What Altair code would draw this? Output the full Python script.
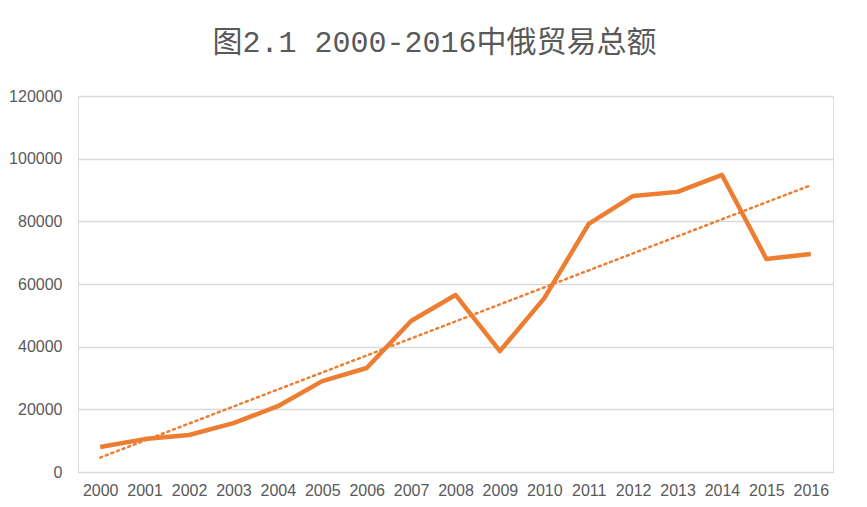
import altair as alt
import pandas as pd

years = list(range(2000, 2017))
values = [8000, 10500, 11800, 15600, 21000, 29000, 33200, 48200, 56500,
          38600, 55500, 79200, 88100, 89400, 94800, 68000, 69600]
y_ticks = [0, 20000, 40000, 60000, 80000, 100000, 120000]

df = pd.DataFrame({"year": years, "value": values})

ORANGE = "#ED7D31"
GRAY = "#595959"

x = alt.X("year:Q",
          scale=alt.Scale(domain=[1999.5, 2016.5], nice=False, zero=False),
          axis=alt.Axis(values=years, format="d", title=None, grid=False,
                        domain=False, ticks=False, labelPadding=10,
                        labelFontSize=16, labelColor=GRAY, labelOverlap=False,
                        labelFont="Liberation Sans"))
y = alt.Y("value:Q",
          scale=alt.Scale(domain=[0, 120000], nice=False),
          axis=alt.Axis(values=y_ticks, format="d", title=None, grid=True, gridColor="#D9D9D9",
                        gridWidth=1.3, domain=False, ticks=False, labelPadding=16,
                        labelFontSize=16, labelColor=GRAY, labelFont="Liberation Sans"))

base = alt.Chart(df)

line = base.mark_line(color=ORANGE, strokeWidth=4.5, strokeJoin="round").encode(x=x, y=y)

trend = base.transform_regression("year", "value").mark_line(
    color=ORANGE, strokeWidth=2.5, strokeDash=[2, 4], strokeCap="round"
).encode(x=x, y=y)

chart = alt.layer(line, trend).properties(
    width=755, height=376,
    padding={"left": 70, "top": 88, "right": 26, "bottom": 27},
    autosize=alt.AutoSizeParams(type="none"),
    title=alt.TitleParams("图2.1 2000-2016中俄贸易总额", fontSize=30,
                          font="Liberation Mono, Noto Sans CJK SC", fontWeight="normal",
                          color=GRAY, anchor="middle", dx=-21, offset=30),
).configure_view(stroke=None).configure(background="white")

chart.save("out.html", embed_options={"renderer": "svg", "actions": False})
